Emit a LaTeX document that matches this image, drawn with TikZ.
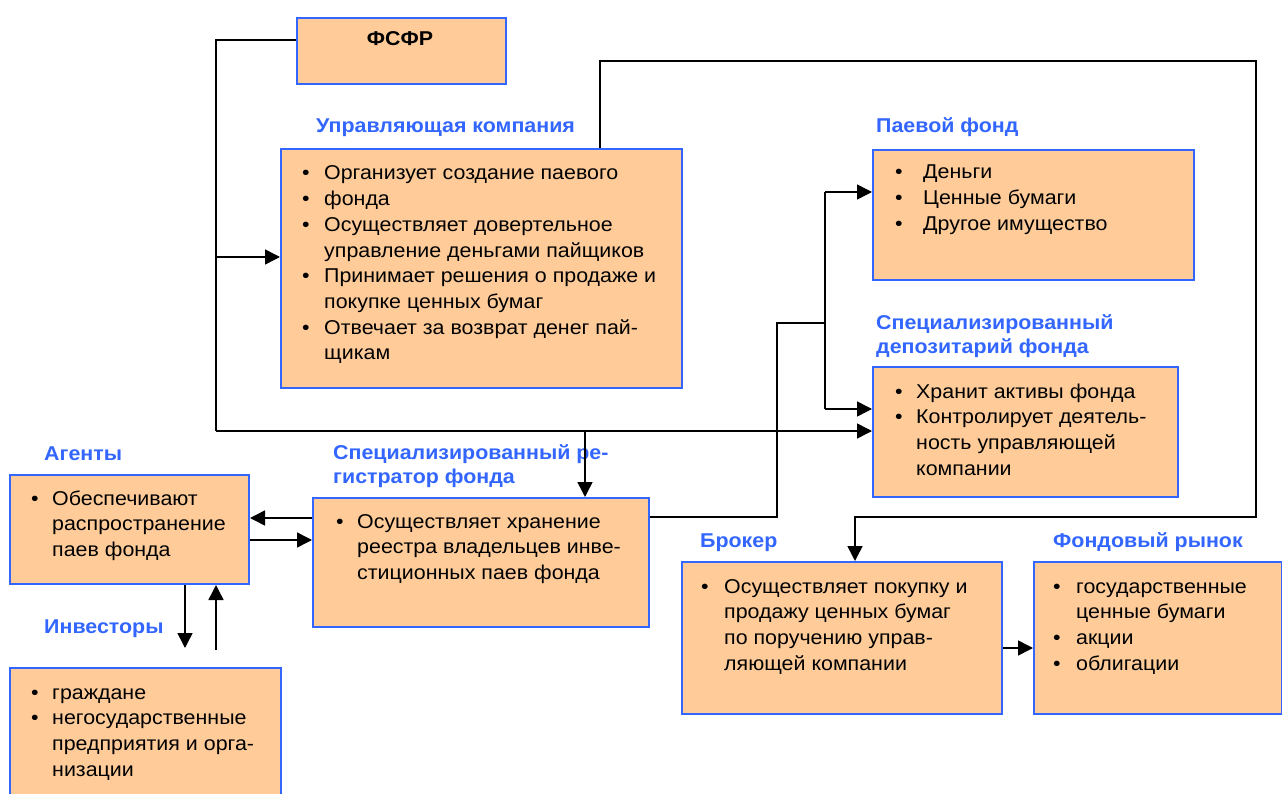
\documentclass[tikz,border=0pt]{standalone}
\usepackage{fontspec}
\setmainfont{Liberation Sans}[FakeStretch=1.07]
\usetikzlibrary{arrows.meta}
\definecolor{bbl}{HTML}{3366FF}
\definecolor{peach}{HTML}{FFCC99}
\newlength{\mybw}
\newcommand{\myb}[1]{\makebox[\mybw][l]{\textbullet}#1}
\newcommand{\myc}[1]{\hspace*{\mybw}#1}
\newcommand{\mytx}[2]{\setlength{\mybw}{#1}\parbox[t]{500pt}{\fontsize{20}{25.7}\selectfont #2}}
\tikzset{
  box/.style={draw=bbl, fill=peach, line width=2pt, inner sep=0, anchor=north west},
  txt/.style={anchor=base west, inner sep=0, text=black},
  lab/.style={anchor=base west, inner sep=0, text=bbl, font=\bfseries\fontsize{20}{24.5}\selectfont},
  conn/.style={draw=black, line width=1.5pt},
  arr/.style={conn, -{Triangle[length=15pt,width=15pt]}}
}
\begin{document}
\begin{tikzpicture}[x=1pt,y=-1pt]
\useasboundingbox[fill=white] (0,0) rectangle (1282,794);
% boxes
\node[box, minimum width=209pt, minimum height=66pt] (fsfr) at (296,17) {};
\node[box, minimum width=401pt, minimum height=239pt] (uk) at (280,148) {};
\node[box, minimum width=321pt, minimum height=130pt] (pf) at (872,149) {};
\node[box, minimum width=305pt, minimum height=130pt] (dep) at (872,366) {};
\node[box, minimum width=336pt, minimum height=129pt] (reg) at (312,497) {};
\node[box, minimum width=239pt, minimum height=109pt] (ag) at (9,474) {};
\node[box, minimum width=271pt, minimum height=150pt] (inv) at (9,667) {};
\node[box, minimum width=320pt, minimum height=152pt] (br) at (681,561) {};
\node[box, minimum width=248pt, minimum height=152pt] (mk) at (1033,561) {};
% titles
\node[anchor=base, inner sep=0, font=\bfseries\fontsize{20}{24}\selectfont] (fsfrt) at (400,46) {ФСФР};
\node[lab] (ukl) at (316,133) {Управляющая компания};
\node[lab] (pfl) at (876,133) {Паевой фонд};
\node[lab] (depl) at (876,329) {\parbox[t]{400pt}{Специализированный\\депозитарий фонда}};
\node[lab] (regl) at (333,459) {\parbox[t]{400pt}{Специализированный ре-\\гистратор фонда}};
\node[lab] (agl) at (44,460) {Агенты};
\node[lab] (invl) at (44,633) {Инвесторы};
\node[lab] (brl) at (700,547) {Брокер};
\node[lab] (mkl) at (1053,547) {Фондовый рынок};
% texts
\node[txt] (ukt) at (302,180) {\mytx{22pt}{%
\myb{Организует создание паевого}\\
\myb{фонда}\\
\myb{Осуществляет довертельное}\\
\myc{управление деньгами пайщиков}\\
\myb{Принимает решения о продаже и}\\
\myc{покупке ценных бумаг}\\
\myb{Отвечает за возврат денег пай-}\\
\myc{щикам}}};
\node[txt] (pft) at (895,179) {\mytx{28pt}{%
\myb{Деньги}\\
\myb{Ценные бумаги}\\
\myb{Другое имущество}}};
\node[txt] (dept) at (895,398) {\mytx{21pt}{%
\myb{Хранит активы фонда}\\
\myb{Контролирует деятель-}\\
\myc{ность управляющей}\\
\myc{компании}}};
\node[txt] (regt) at (336,528) {\mytx{21pt}{%
\myb{Осуществляет хранение}\\
\myc{реестра владельцев инве-}\\
\myc{стиционных паев фонда}}};
\node[txt] (agt) at (31,505) {\mytx{21pt}{%
\myb{Обеспечивают}\\
\myc{распространение}\\
\myc{паев фонда}}};
\node[txt] (invt) at (31,699) {\mytx{21pt}{%
\myb{граждане}\\
\myb{негосударственные}\\
\myc{предприятия и орга-}\\
\myc{низации}}};
\node[txt] (brt) at (701,593) {\mytx{23pt}{%
\myb{Осуществляет покупку и}\\
\myc{продажу ценных бумаг}\\
\myc{по поручению управ-}\\
\myc{ляющей компании}}};
\node[txt] (mkt) at (1053,593) {\mytx{23pt}{%
\myb{государственные}\\
\myc{ценные бумаги}\\
\myb{акции}\\
\myb{облигации}}};
% connector corners
\coordinate (j1) at (216,40);
\coordinate (j2) at (216,257);
\coordinate (j3) at (216,431);
\coordinate (j4) at (585,431);
\coordinate (k1) at (600,61);
\coordinate (k2) at (1256,61);
\coordinate (k3) at (1256,517);
\coordinate (k4) at (855,517);
\coordinate (m1) at (777,517);
\coordinate (m2) at (777,323);
\coordinate (m3) at (825,323);
\coordinate (m4) at (825,192);
\coordinate (m5) at (825,409);
\coordinate (a1) at (0,518);
\coordinate (a2) at (0,540);
\coordinate (d1) at (185,648);
\coordinate (u1) at (216,650);
\coordinate (b1) at (0,648);
% connectors
\draw[conn] (fsfr.west |- j1) -- (j1) -- (j3);
\draw[arr] (j3) -- (dep.west |- j3);
\draw[arr] (j2) -- (uk.west |- j2);
\draw[arr] (j4) -- (reg.north -| j4);
\draw[arr] (uk.north -| k1) -- (k1) -- (k2) -- (k3) -- (k4) -- (br.north -| k4);
\draw[conn] (reg.east |- m1) -- (m1) -- (m2) -- (m3);
\draw[conn] (m4) -- (m5);
\draw[arr] (m4) -- (pf.west |- m4);
\draw[arr] (m5) -- (dep.west |- m5);
\draw[arr] (reg.west |- a1) -- (ag.east |- a1);
\draw[arr] (ag.east |- a2) -- (reg.west |- a2);
\draw[arr] (ag.south -| d1) -- (d1);
\draw[arr] (u1) -- (ag.south -| u1);
\draw[arr] (br.east |- b1) -- (mk.west |- b1);
\end{tikzpicture}
\end{document}
